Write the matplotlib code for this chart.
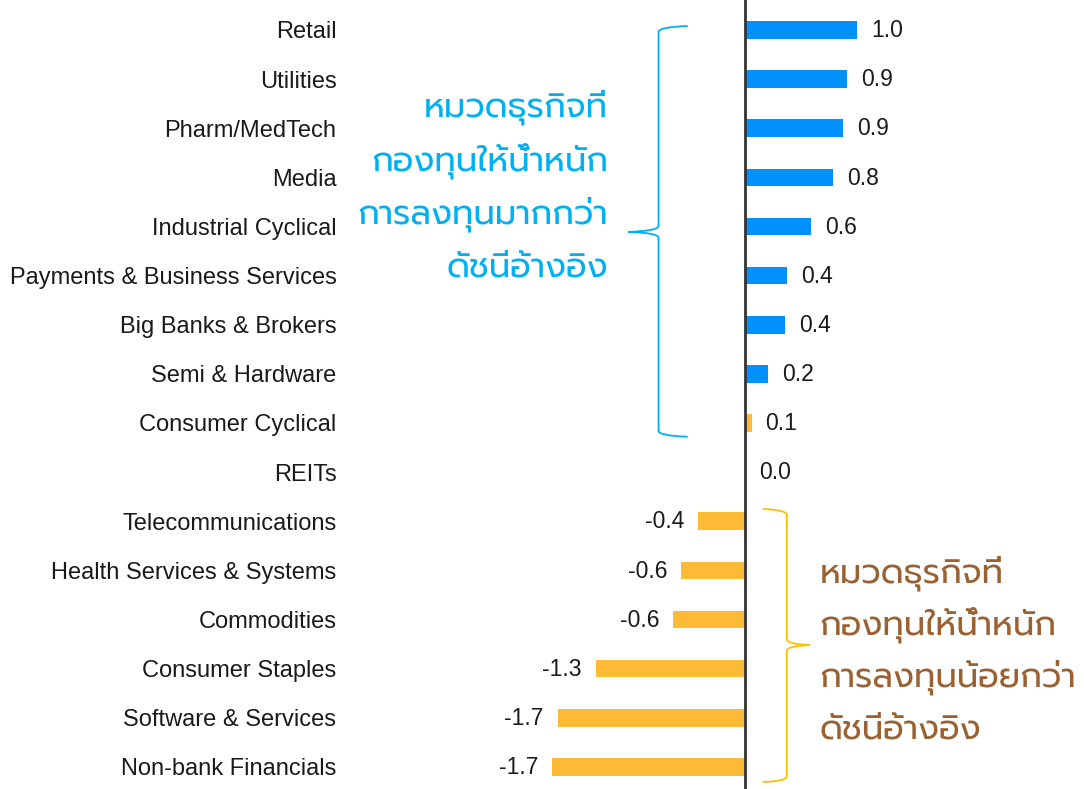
import numpy as np
import matplotlib
matplotlib.use('Agg')
import matplotlib.pyplot as plt
from matplotlib.path import Path
from matplotlib.patches import PathPatch

plt.rcParams['font.family'] = ['Liberation Sans', 'DejaVu Sans']

sectors = ['Retail', 'Utilities', 'Pharm/MedTech', 'Media', 'Industrial Cyclical',
           'Payments & Business Services', 'Big Banks & Brokers', 'Semi & Hardware',
           'Consumer Cyclical', 'REITs', 'Telecommunications',
           'Health Services & Systems', 'Commodities', 'Consumer Staples',
           'Software & Services', 'Non-bank Financials']
weights = [1.0, 0.91, 0.88, 0.79, 0.59, 0.38, 0.36, 0.21, 0.06, 0.0,
           -0.42, -0.57, -0.64, -1.33, -1.67, -1.72]
n_over = 8  # first rows drawn blue

over_text = ['หมวดธุรกิจที่', 'กองทุนให้น้ำหนัก', 'การลงทุนมากกว่า', 'ดัชนีอ้างอิง']
under_text = ['หมวดธุรกิจที่', 'กองทุนให้น้ำหนัก', 'การลงทุนน้อยกว่า', 'ดัชนีอ้างอิง']

BLUE = '#0091FF'
ORANGE = '#FDBA35'
CYAN = '#00B0F0'
GOLD = '#FFC000'
BROWN = '#9A6232'
THAI = ['Prompt', 'DejaVu Sans']

fig = plt.figure(figsize=(10.84, 7.89), dpi=100)
ax = fig.add_axes([0.318, 0.0, 0.682, 1.0])

y = np.arange(len(sectors))
colors = [BLUE if i < n_over else ORANGE for i in range(len(sectors))]
ax.barh(y, weights, height=0.36, color=colors)
ax.axvline(0, color='#333333', lw=2)

for yi, w in zip(y, weights):
    if w >= 0:
        ax.annotate('%.1f' % w, (w, yi), xytext=(10, -0.5), textcoords='offset points',
                    ha='left', va='center', fontsize=16.5, color='#1a1a1a')
    else:
        ax.annotate('%.1f' % w, (w, yi), xytext=(-10, -0.5), textcoords='offset points',
                    ha='right', va='center', fontsize=16.5, color='#1a1a1a')

ax.set_yticks(y)
ax.set_yticklabels(sectors, fontsize=17, color='#1a1a1a')
ax.tick_params(axis='y', length=0, pad=6)
ax.set_xticks([])
for s in ax.spines.values():
    s.set_visible(False)
ax.set_xlim(-3.571, 3.027)
ax.set_ylim(15.45, -0.61)


def brace(ax, xv, xtip, xend, ytop, ymid, ybot, color):
    r = 0.12
    verts = [(xend, ytop), (xv, ytop + 0.02), (xv, ytop + r),
             (xv, ymid - r), (xv, ymid - 0.02), (xtip, ymid),
             (xv, ymid + 0.02), (xv, ymid + r),
             (xv, ybot - r), (xv, ybot - 0.02), (xend, ybot)]
    codes = [Path.MOVETO, Path.CURVE3, Path.CURVE3,
             Path.LINETO, Path.CURVE3, Path.CURVE3,
             Path.CURVE3, Path.CURVE3,
             Path.LINETO, Path.CURVE3, Path.CURVE3]
    ax.add_patch(PathPatch(Path(verts, codes), fill=False, edgecolor=color,
                           lw=1.3, clip_on=False))


brace(ax, -0.77, -1.04, -0.51, -0.08, 4.11, 8.28, CYAN)
brace(ax, 0.375, 0.58, 0.16, 9.75, 12.52, 15.31, GOLD)

for i, line in enumerate(over_text):
    ax.text(-1.22, 1.77 + i * 1.085, line, ha='right', va='baseline',
            fontsize=24.5, color=CYAN, family=THAI, weight='normal')
for i, line in enumerate(under_text):
    ax.text(0.67, 11.24 + i * 1.06, line, ha='left', va='baseline',
            fontsize=24.5, color=BROWN, family=THAI, weight='normal')

fig.savefig('out.png', dpi=100)
